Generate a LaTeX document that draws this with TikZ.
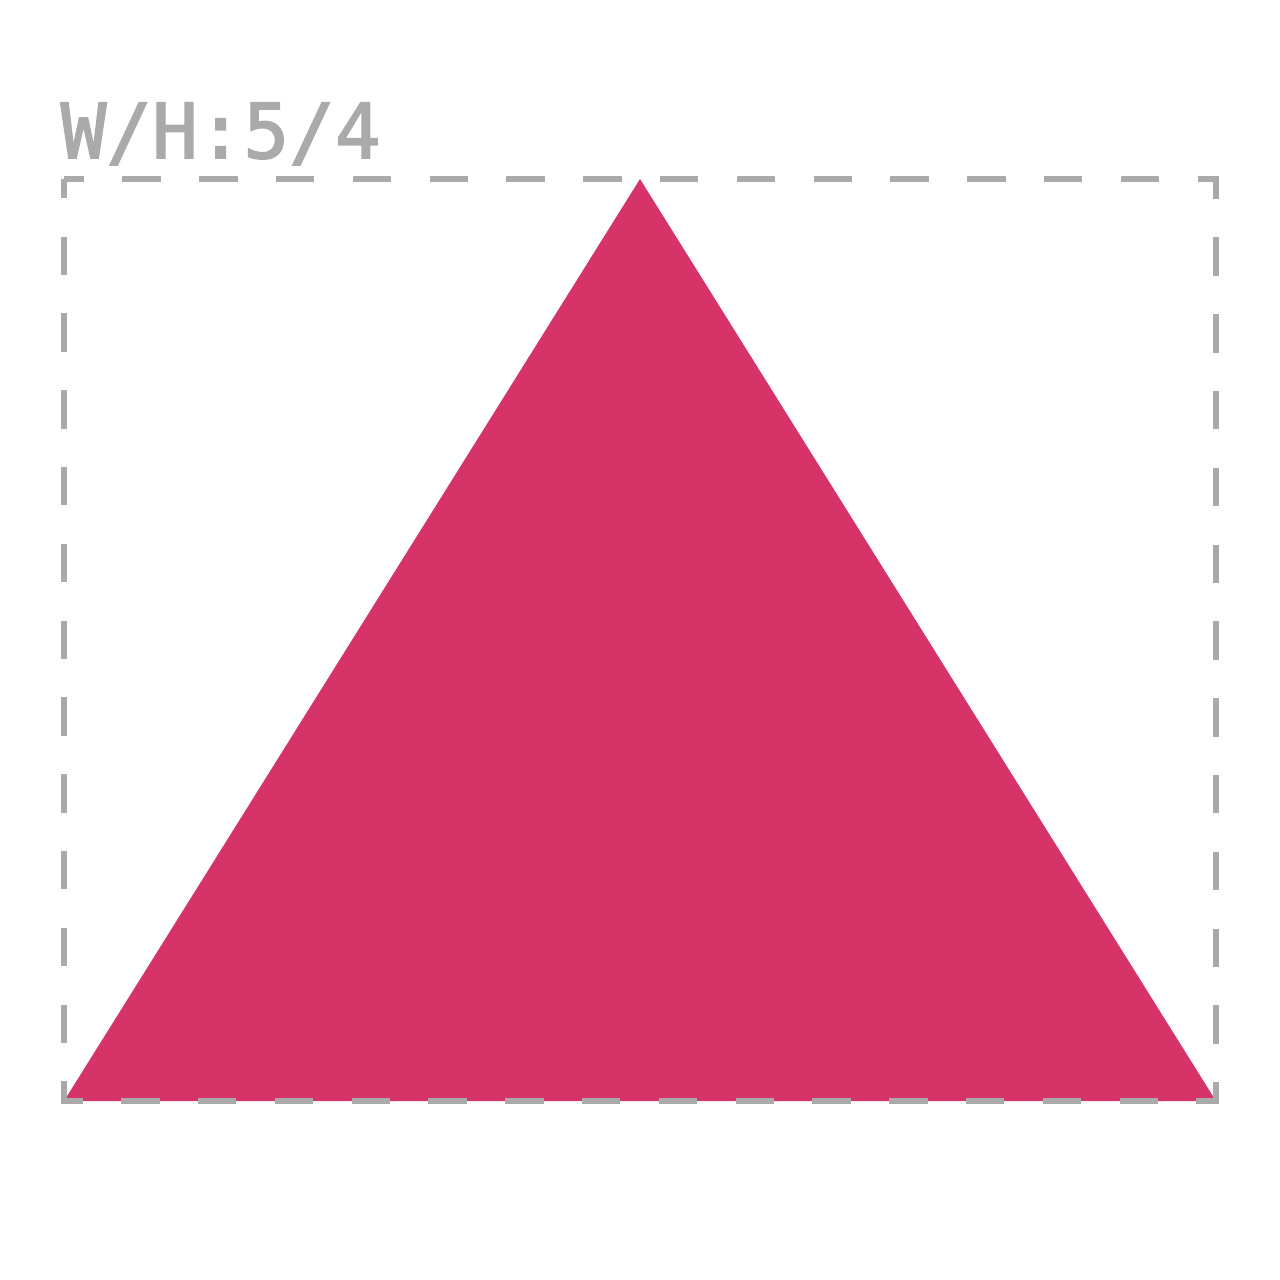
\documentclass[tikz,border=0pt]{standalone}
\usepackage{fontspec}
\newfontfamily\labelfont[FakeBold=2.2]{DejaVu Sans Mono}
\usepackage{xcolor}
\definecolor{shapefill}{RGB}{214,52,105}
\definecolor{framegray}{RGB}{170,170,170}
\begin{document}
\begin{tikzpicture}[x=0.1mm, y=-0.1mm,
    frame/.style={framegray, line width=0.6mm, dash pattern=on 3.84mm off 3.84mm, dash phase=1.92mm},
    ratiolabel/.style={framegray, inner sep=0, anchor=base west, font=\labelfont\fontsize{21.6pt}{21.6pt}\selectfont}]
  \useasboundingbox (0,0) rectangle (1280,1280);
  % corner points
  \coordinate (tl) at (64,179);
  \coordinate (br) at (1216,1101);
  \coordinate (apex) at (640,179);
  \coordinate (bl) at (64,1101);
  % triangle
  \fill[shapefill] (apex) -- (br) -- (bl) -- cycle;
  % dashed frame
  \draw[frame] (tl) rectangle (br);
  \node[ratiolabel] (ratio) at (60,158) {W/H:5/4};
\end{tikzpicture}
\end{document}
